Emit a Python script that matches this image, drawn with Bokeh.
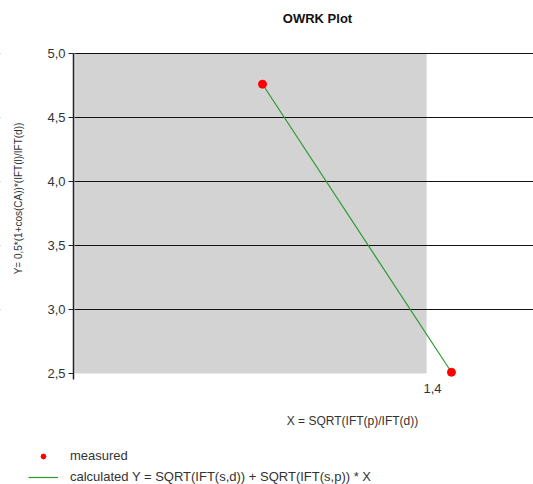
from math import pi
from bokeh.plotting import figure
from bokeh.models import (Range1d, FixedTicker, CustomJSTickFormatter, BoxAnnotation,
                          Label, Legend, LegendItem)
from bokeh.embed import file_html
from bokeh.resources import INLINE

title_text = "OWRK Plot"
x_label = "X = SQRT(IFT(p)/IFT(d))"
y_label = "Y= 0,5*(1+cos(CA))*(IFT(l)/IFT(d))"
measured_x = [0.737, 1.474]
measured_y = [4.76, 2.51]
calc_x = [0.737, 1.474]
calc_y = [4.76, 2.51]
x_ticks = [1.4]
y_ticks = [2.5, 3.0, 3.5, 4.0, 4.5, 5.0]
grid_ticks = [3.0, 3.5, 4.0, 4.5, 5.0]
legend_labels = ["measured", "calculated Y = SQRT(IFT(s,d)) + SQRT(IFT(s,p)) * X"]

# view window and plot-area bounds (data units)
x_range = (-0.285, 1.794)
y_range = (1.633, 5.414)
area_left, area_right = 0.0, 1.377
area_bottom, area_top = 2.5, 5.0
axis_bottom = 2.453

FONT = "Liberation Sans"
TXT = "#333333"
RED = "#ff0000"
GREEN = "#2e9a2e"

p = figure(width=533, height=484, output_backend="svg", toolbar_location=None, title=None,
           x_range=Range1d(*x_range), y_range=Range1d(*y_range),
           min_border_left=0, min_border_right=0, min_border_top=0, min_border_bottom=0)
p.outline_line_color = None
p.background_fill_color = "white"
p.border_fill_color = "white"

comma = CustomJSTickFormatter(code="return tick.toFixed(1).replace('.', ',');")

xa = p.xaxis[0]
xa.fixed_location = axis_bottom
xa.ticker = FixedTicker(ticks=x_ticks)
xa.formatter = comma
xa.axis_line_color = None
xa.major_tick_line_color = None
xa.minor_tick_line_color = None
xa.major_tick_out = 0
xa.major_label_standoff = 4
xa.major_label_text_font = FONT
xa.major_label_text_font_size = "13px"
xa.major_label_text_color = TXT

ya = p.yaxis[0]
ya.fixed_location = area_left
ya.bounds = (axis_bottom, area_top)
ya.ticker = FixedTicker(ticks=y_ticks)
ya.formatter = comma
ya.axis_line_color = "#222222"
ya.axis_line_width = 1.5
ya.major_tick_line_color = "#222222"
ya.major_tick_out = 5
ya.major_tick_in = 0
ya.minor_tick_line_color = None
ya.major_label_standoff = 3
ya.major_label_text_font = FONT
ya.major_label_text_font_size = "13px"
ya.major_label_text_color = TXT

p.xgrid.visible = False
p.ygrid.ticker = FixedTicker(ticks=grid_ticks)
p.ygrid.grid_line_color = "#111111"
p.ygrid.grid_line_width = 1.2

# grey plot area, and a white margin left of the y axis (hides grid there)
p.add_layout(BoxAnnotation(left=area_left, right=area_right, bottom=area_bottom, top=area_top,
                           fill_color="#d3d3d3", fill_alpha=1.0, line_color=None, level="image"))
p.add_layout(BoxAnnotation(right=area_left, fill_color="white", fill_alpha=1.0,
                           line_color="white", line_width=4, level="glyph"))

ln = p.line(calc_x, calc_y, line_color=GREEN, line_width=1.2)
pts = p.scatter(measured_x, measured_y, size=8, fill_color=RED, line_color=RED)

# texts: screen units measured from the canvas' bottom-left corner
p.add_layout(Label(x=317, y=466, x_units="screen", y_units="screen", text=title_text,
                   text_align="center", text_baseline="middle", text_font=FONT,
                   text_font_size="13px", text_font_style="bold", text_color="#111111"))
p.add_layout(Label(x=352, y=64, x_units="screen", y_units="screen", text=x_label,
                   text_align="center", text_baseline="middle", text_font=FONT,
                   text_font_size="12px", text_color=TXT))
p.add_layout(Label(x=18, y=286, x_units="screen", y_units="screen", text=y_label,
                   text_align="center", text_baseline="middle", angle=pi / 2, text_font=FONT,
                   text_font_size="10px", text_color=TXT))

legend = Legend(items=[LegendItem(label=legend_labels[0], renderers=[pts]),
                       LegendItem(label=legend_labels[1], renderers=[ln])],
                location=(28, 0), orientation="vertical",
                border_line_color=None, background_fill_alpha=0,
                glyph_width=30, glyph_height=12, label_height=12, spacing=6,
                label_standoff=12, padding=0, margin=0,
                label_text_font=FONT, label_text_font_size="13px", label_text_color=TXT)
p.add_layout(legend)

open("out.html", "w").write(file_html(p, INLINE))
